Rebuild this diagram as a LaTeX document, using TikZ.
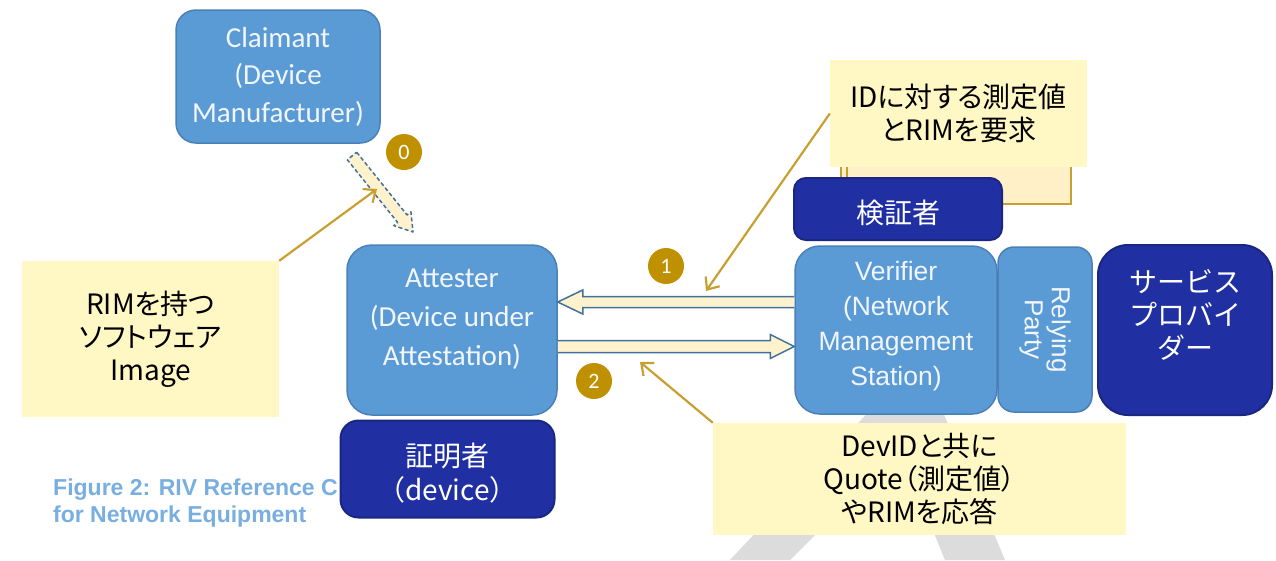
\documentclass[tikz,border=0pt]{standalone}
\usepackage{fontspec}
\usetikzlibrary{calc,arrows.meta}
\newfontfamily\jpfont{Noto Sans CJK JP}
\newfontfamily\jppfont[RawFeature=+palt]{Noto Sans CJK JP}
\newfontfamily\calfont{Carlito}
\newfontfamily\arfont{Liberation Sans}

\definecolor{boxblue}{HTML}{5B9BD5}
\definecolor{boxedge}{HTML}{4A80B8}
\definecolor{boxtext}{HTML}{F2F6FB}
\definecolor{navy}{HTML}{2030A2}
\definecolor{navyedge}{HTML}{1A2680}
\definecolor{note}{HTML}{FFF8C4}
\definecolor{gold}{HTML}{BF9000}
\definecolor{lead}{HTML}{C8A030}
\definecolor{cream}{HTML}{FFF2CC}
\definecolor{paleorange}{HTML}{FFF0C8}
\definecolor{arrowedge}{HTML}{41719C}
\definecolor{capblue}{HTML}{78AEE0}
\definecolor{wmark}{HTML}{DCDCDC}

% fat arrow: [style]{tail}{tip}{half shaft}{half head}{head length}{path end}
\newcommand\blockarrow[7][]{%
  \coordinate (hb) at ($(#3)!#6!(#2)$);
  \draw[#1] ($(#2)!#4!90:(#3)$) -- ($(hb)!#4!90:(#3)$) -- ($(hb)!#5!90:(#3)$)
    -- (#3) -- ($(hb)!#5!-90:(#3)$) -- ($(hb)!#4!-90:(#3)$) -- ($(#2)!#4!-90:(#3)$) #7;
}

\begin{document}
\begin{tikzpicture}[x=1pt,y=-1pt,
  bluebox/.style={draw=boxedge, line width=1.5pt, fill=boxblue, inner sep=0pt},
  navybox/.style={draw=navyedge, line width=2pt, fill=navy, inner sep=0pt},
  notebox/.style={fill=note, inner sep=0pt, align=center, text=black,
    font=\jppfont\fontsize{28}{33}\selectfont},
  caltext/.style={font=\calfont\fontsize{29}{37.5}\selectfont, text=boxtext, align=center, inner sep=0pt},
  artext/.style={font=\arfont\fontsize{26.5}{35}\selectfont, text=boxtext, align=center, inner sep=0pt},
  navytext/.style={font=\jpfont\fontsize{28}{34}\selectfont, text=white, align=center, inner sep=0pt},
  badge/.style={circle, fill=gold, minimum size=36pt, inner sep=0pt, text=white,
    font=\calfont\fontsize{22}{22}\selectfont},
  leader/.style={draw=lead, line width=2.2pt, -{Straight Barb[length=10pt,width=17pt,line width=2.2pt]}},
  flowarrow/.style={fill=cream, draw=arrowedge, line width=1.5pt},
  caption/.style={font=\arfont\bfseries\fontsize{23}{27}\selectfont, text=capblue, anchor=base west, inner sep=0pt}
]
\useasboundingbox (0,0) rectangle (1276,560);
\fill[white] (0,0) rectangle (1276,560);

% faint watermark band
\fill[wmark] (730,560) -- (875,405) -- (940,405) -- (1005,560) -- (945,560) -- (900,450) -- (790,560) -- cycle;

% figure caption
\node[caption] (cap1) at (53,495) {Figure 2: RIV Reference C};
\node[caption] (cap2) at (53,522) {for Network Equipment};

% entities
\node[bluebox, rounded corners=20pt, minimum width=204pt, minimum height=133pt] (claimant) at (278,76.5) {};
\node[caltext] (claimanttext) at (claimant.center) {Claimant\\(Device\\Manufacturer)};

\node[bluebox, rounded corners=25pt, minimum width=210pt, minimum height=170pt] (attester) at (452,330) {};
\node[caltext, font=\calfont\fontsize{29}{39}\selectfont] (attestertext) at ($(attester.center)+(0,-11)$) {Attester\\(Device under\\Attestation)};

\node[bluebox, rounded corners=25pt, minimum width=202pt, minimum height=168pt] (verifier) at (896,330) {};
\node[artext] (verifiertext) at ($(verifier.center)+(0,-4)$) {Verifier\\(Network\\Management\\Station)};

\node[bluebox, rounded corners=16pt, minimum width=94pt, minimum height=165pt] (relying) at (1045,329.5) {};
\node[artext, rotate=-90, font=\arfont\fontsize{26}{27}\selectfont] (relyingtext) at (relying.center) {Relying\\Party};

\node[navybox, rounded corners=30pt, minimum width=174pt, minimum height=170pt] (provider) at (1185,330) {};
\node[navytext, font=\jpfont\fontsize{28}{33}\selectfont] (providertext) at ($(provider.center)+(0,-15)$) {サービス\\プロバイ\\ダー};

\node[navybox, rounded corners=18pt, minimum width=214pt, minimum height=97pt] (prover) at (447.5,469) {};
\node[navytext] (provertext) at ($(prover.center)+(0,4)$) {証明者\\（device）};

% stacked sheet behind the verifier role label
\path[fill=paleorange, draw=lead, line width=2pt] (841,150) rectangle (1071,204);
\draw[lead, line width=1.2pt] (847,166) -- (847,204);

\node[navybox, rounded corners=12pt, minimum width=208pt, minimum height=62pt] (verifierrole) at (898,209) {};
\node[navytext] (verifierroletext) at ($(verifierrole.center)+(0,4)$) {検証者};

% notes
\node[notebox, minimum width=257pt, minimum height=107pt] (reqnote) at (958.5,113.5) {IDに対する測定値\\とRIMを要求};
\node[notebox, minimum width=257pt, minimum height=156pt] (rimnote) at (150.5,339) {RIMを持つ\\ソフトウェア\\Image};
\node[notebox, minimum width=413pt, minimum height=112pt] (resnote) at (919.5,479) {DevIDと共に\\Quote（測定値）\\やRIMを応答};

% message arrows
\coordinate (v1) at ($(verifier.west)+(0,-28)$);
\coordinate (a1) at ($(attester.east)+(0,-28)$);
\coordinate (a2) at ($(attester.east)+(0,16.5)$);
\coordinate (v2) at ($(verifier.west)+(0,16.5)$);
\blockarrow[flowarrow]{v1}{a1}{5.5pt}{12pt}{25pt}{}
\blockarrow[flowarrow]{a2}{v2}{6pt}{12pt}{24pt}{}

% image delivery arrow
\coordinate (c0) at (352,156);
\coordinate (a0) at (413,232);
\blockarrow[flowarrow, dash pattern=on 4pt off 2.5pt, line join=round]{c0}{a0}{6pt}{11pt}{17pt}{-- cycle}

% step badges
\node[badge] (b0) at (404,152) {0};
\node[badge] (b1) at (666,266) {1};
\node[badge] (b2) at (594,381) {2};

% note leaders
\coordinate (t0) at (377,189);
\coordinate (t1) at (706,291);
\coordinate (t2) at (640,362);
\draw[leader] (rimnote.north east) -- (t0);
\draw[leader] (reqnote.west) -- (t1);
\draw[leader] (resnote.north west) -- (t2);
\end{tikzpicture}
\end{document}
